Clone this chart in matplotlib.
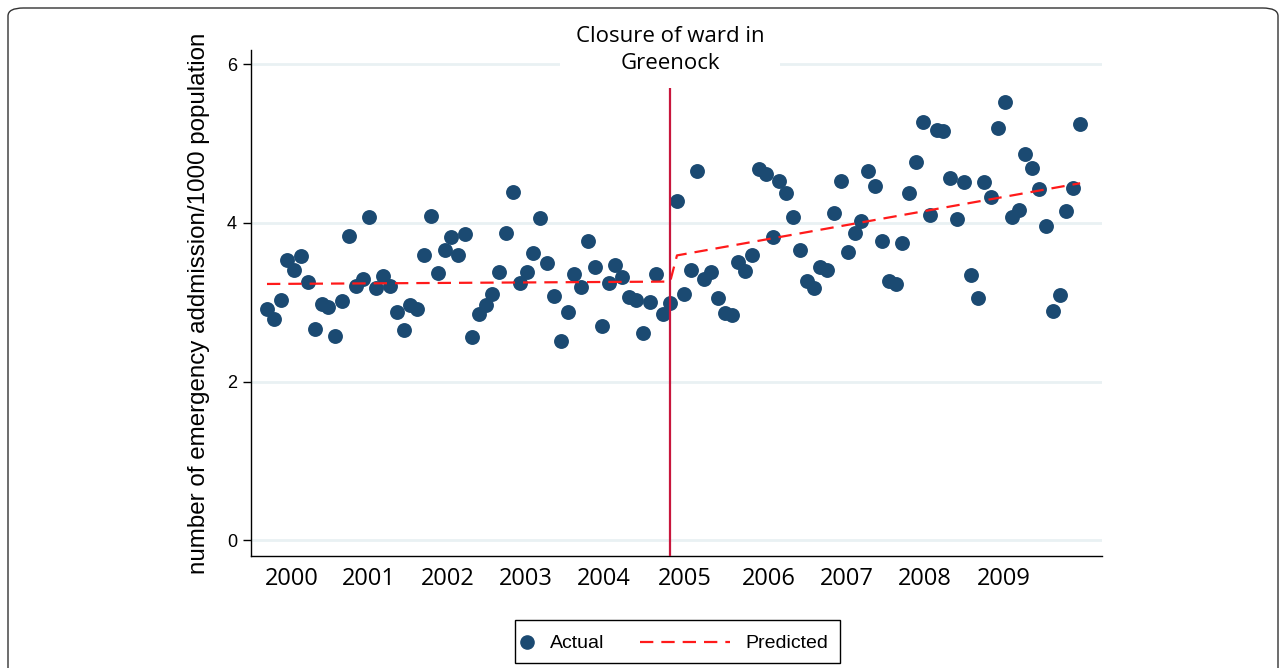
import numpy as np
import matplotlib
matplotlib.use("Agg")
import matplotlib.pyplot as plt
import matplotlib.transforms as mtransforms
from matplotlib.patches import Rectangle, FancyBboxPatch
from matplotlib.lines import Line2D

# ---------------------------
# Data (monthly, Jan 2000 - Dec 2009)
# ---------------------------

months = np.arange(1, 121)

actual = [
    2.91, 2.79, 3.03, 3.53, 3.41, 3.58, 3.26, 2.66, 2.98, 2.94, 2.58, 3.01,
    3.83, 3.21, 3.29, 4.07, 3.18, 3.33, 3.20, 2.88, 2.65, 2.96, 2.91, 3.60,
    4.09, 3.37, 3.66, 3.82, 3.60, 3.86, 2.56, 2.85, 2.96, 3.10, 3.38, 3.87,
    4.39, 3.24, 3.38, 3.62, 4.06, 3.49, 3.08, 2.51, 2.88, 3.36, 3.19, 3.77,
    3.45, 2.70, 3.24, 3.47, 3.32, 3.07, 3.03, 2.61, 3.00, 3.36, 2.85, 2.99,
    4.28, 3.10, 3.41, 4.65, 3.29, 3.38, 3.05, 2.86, 2.84, 3.51, 3.39, 3.59,
    4.68, 4.62, 3.82, 4.53, 4.38, 4.07, 3.66, 3.27, 3.18, 3.44, 3.41, 4.12,
    4.53, 3.63, 3.87, 4.02, 4.66, 4.47, 3.77, 3.27, 3.23, 3.75, 4.38, 4.77,
    5.27, 4.10, 5.17, 5.16, 4.56, 4.05, 4.51, 3.34, 3.05, 4.51, 4.33, 5.20,
    5.52, 4.08, 4.16, 4.87, 4.69, 4.43, 3.96, 2.89, 3.09, 4.15, 4.44, 5.25,
]

# predicted (segmented regression) - breakpoints only
pred_months = [1, 60, 61, 120]
pred_values = [3.23, 3.26, 3.59, 4.50]

closure_month = 60
closure_top = 5.70

year_labels = ["2000", "2001", "2002", "2003", "2004",
               "2005", "2006", "2007", "2008", "2009"]
year_pos = [4.6, 15.9, 27.4, 38.9, 50.3, 62.2, 74.4, 85.8, 97.3, 108.8]

yticks = [0, 2, 4, 6]

# ---------------------------
# Style
# ---------------------------

dot_color = "#1b4a72"
pred_color = "#ff1a1a"
vline_color = "#c8163c"
grid_color = "#e9f1f3"
sans = ["Liberation Sans", "DejaVu Sans"]
label_font = ["Open Sans", "DejaVu Sans"]

W, H = 1284, 668
fig = plt.figure(figsize=(W / 100, H / 100), dpi=100)
ax = fig.add_axes([251 / W, 1 - 556 / H, (1102 - 251) / W, (556 - 50) / H])

ax.set_xlim(-1.34, 123.2)
ax.set_ylim(-0.2, 6.18)

for y in yticks:
    ax.axhline(y, color=grid_color, lw=2, zorder=0)

ax.scatter(months, actual, s=115, color=dot_color, zorder=3, linewidths=0)
ax.plot(pred_months, pred_values, color=pred_color, lw=1.6,
        dashes=(6, 3.6), zorder=4)
ax.vlines(closure_month, -0.2, closure_top, color=vline_color, lw=1.6, zorder=6)

for s in ["top", "right"]:
    ax.spines[s].set_visible(False)
ax.spines["left"].set_linewidth(1.0)
ax.spines["bottom"].set_linewidth(1.0)

ax.set_yticks(yticks)
ax.set_yticklabels([str(v) for v in yticks], fontfamily=sans, fontsize=13)
ax.tick_params(axis="y", length=6, width=1, pad=4)

ax.set_xticks(year_pos)
ax.set_xticklabels(year_labels, fontfamily=label_font, fontsize=17)
ax.tick_params(axis="x", length=0, pad=8)

fig.text(199 / W, 1 - 303 / H, "number of emergency addmission/1000 population",
         rotation=90, ha="center", va="center", fontsize=17.4, fontfamily=sans)

# annotation above the closure line
trans = mtransforms.blended_transform_factory(ax.transData, fig.transFigure)
ax.text(closure_month, 1 - 50 / H, "Closure of ward in\nGreenock",
        transform=trans, ha="center", va="center", fontsize=16,
        fontfamily=label_font, linespacing=1.35, clip_on=False, zorder=5,
        bbox=dict(boxstyle="square,pad=0.7", fc="white", ec="none"))

# ---------------------------
# Legend box
# ---------------------------

fig.add_artist(Rectangle((515 / W, 1 - 663 / H), 325 / W, 43 / H,
                         transform=fig.transFigure, fill=False,
                         ec="black", lw=1.0))
fig.add_artist(Line2D([527 / W], [1 - 642 / H], transform=fig.transFigure,
                      marker="o", ms=9.5, color=dot_color, ls="none"))
fig.text(550 / W, 1 - 643 / H, "Actual", ha="left", va="center",
         fontsize=14, fontfamily=sans)
fig.add_artist(Line2D([640 / W, 730 / W], [1 - 642 / H, 1 - 642 / H],
                      transform=fig.transFigure, color=pred_color, lw=1.6,
                      dashes=(6, 3.6)))
fig.text(745 / W, 1 - 643 / H, "Predicted", ha="left", va="center",
         fontsize=14, fontfamily=sans)

# outer rounded frame
fig.add_artist(FancyBboxPatch((8 / W, -20 / H), (1278 - 8) / W, (660 + 20) / H,
                              boxstyle="round,pad=0,rounding_size=0.012",
                              transform=fig.transFigure, fill=False,
                              ec="#333333", lw=1.0))

fig.savefig("out.png", dpi=100)
